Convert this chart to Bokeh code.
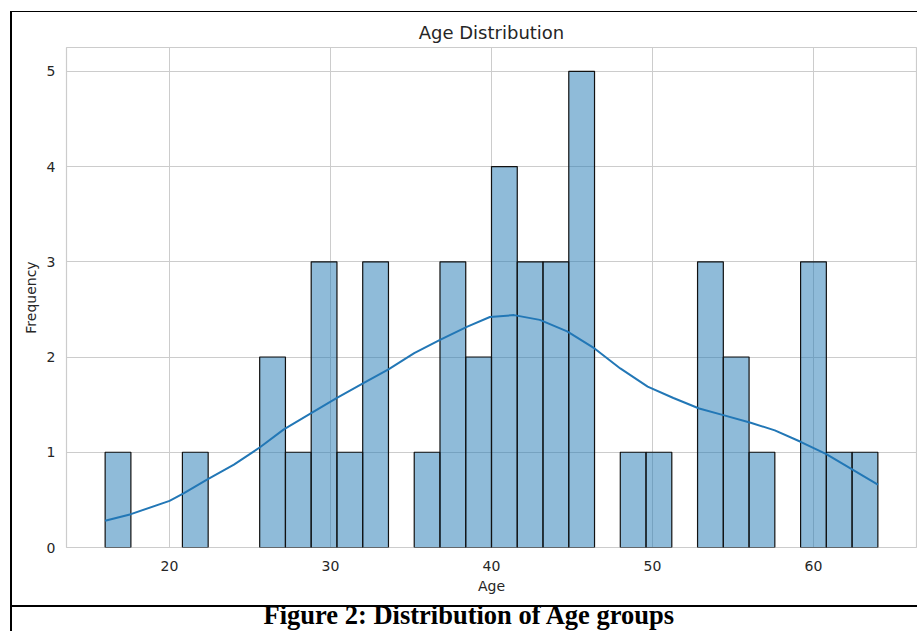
import numpy as np
from bokeh.plotting import figure
from bokeh.models import (ColumnDataSource, Title, FixedTicker, Range1d,
                          InlineStyleSheet)
from bokeh.embed import file_html
from bokeh.resources import INLINE

# ---- data ----
# Age histogram: 30 bins of width 1.6 starting at age 16
bin_start = 16.0
bin_width = 1.6
counts = [1, 0, 0, 1, 0, 0, 2, 1, 3, 1, 3, 0, 1, 3, 2,
          4, 3, 3, 5, 0, 1, 1, 0, 3, 2, 1, 0, 3, 1, 1]

# KDE curve (scaled to counts)
kde_age = [16.0, 17.6, 20.0, 20.9, 22.3, 24.0, 25.6, 27.1, 28.8, 30.4,
           32.1, 33.6, 35.2, 36.8, 38.5, 39.9, 41.4, 43.0, 44.7, 46.4,
           48.0, 49.7, 51.3, 52.9, 54.4, 56.1, 57.6, 59.2, 60.8, 62.4, 64.0]
kde_freq = [0.28, 0.35, 0.49, 0.57, 0.71, 0.87, 1.05, 1.24, 1.41, 1.57,
            1.73, 1.87, 2.04, 2.18, 2.32, 2.42, 2.44, 2.39, 2.27, 2.09,
            1.88, 1.69, 1.57, 1.46, 1.39, 1.31, 1.23, 1.11, 0.98, 0.82, 0.66]

x_ticks = [20, 30, 40, 50, 60]
y_ticks = [0, 1, 2, 3, 4, 5]

title_text = "Age Distribution"
x_label = "Age"
y_label = "Frequency"
caption_text = "Figure 2: Distribution of Age groups"

# ---- build ----
counts_arr = np.array(counts, dtype=float)
edges = bin_start + bin_width * np.arange(len(counts) + 1)
mask = counts_arr > 0
bars = ColumnDataSource(dict(left=edges[:-1][mask], right=edges[1:][mask],
                             top=counts_arr[mask]))
kde = ColumnDataSource(dict(x=kde_age, y=kde_freq))

TXT = "#262626"
GRID = "#cccccc"
FONT = "DejaVu Sans"

p = figure(width=917, height=631, output_backend="svg", toolbar_location=None,
           x_range=Range1d(13.6, 66.4), y_range=Range1d(0, 5.25),
           min_border_left=66, min_border_right=1, min_border_top=47,
           min_border_bottom=83)
p.background_fill_color = "white"
p.border_fill_color = "white"
p.outline_line_color = GRID
p.outline_line_width = 1.2

p.quad(left="left", right="right", top="top", bottom=0, source=bars,
       fill_color="#1f77b4", fill_alpha=0.5, line_color="#111111", line_width=1.2)
p.line("x", "y", source=kde, line_color="#2277b6", line_width=2)

for ax in (p.xaxis[0], p.yaxis[0]):
    ax.axis_line_color = None
    ax.major_tick_line_color = None
    ax.minor_tick_line_color = None
    ax.major_tick_out = 0
    ax.major_tick_in = 0
    ax.minor_tick_out = 0
    ax.major_label_text_font = FONT
    ax.major_label_text_font_size = "14px"
    ax.major_label_text_color = TXT
    ax.axis_label_text_font = FONT
    ax.axis_label_text_font_size = "14px"
    ax.axis_label_text_font_style = "normal"
    ax.axis_label_text_color = TXT

p.xaxis.ticker = FixedTicker(ticks=x_ticks)
p.yaxis.ticker = FixedTicker(ticks=y_ticks)
p.xaxis.axis_label = x_label
p.yaxis.axis_label = y_label
p.xaxis.major_label_standoff = 13
p.xaxis.axis_label_standoff = 4
p.yaxis.major_label_standoff = 11
p.yaxis.axis_label_standoff = 5

p.xgrid.grid_line_color = GRID
p.ygrid.grid_line_color = GRID
p.xgrid.grid_line_width = 1
p.ygrid.grid_line_width = 1

p.title.text = title_text
p.title.align = "center"
p.title.text_font = FONT
p.title.text_font_size = "18px"
p.title.text_font_style = "normal"
p.title.text_color = TXT
p.title.standoff = 10

caption = Title(text=caption_text, align="left", offset=197,
                text_font="Liberation Serif", text_font_style="bold",
                text_font_size="26.5px", text_color="black", standoff=3)
p.add_layout(caption, "below")

# document frame lines (decorative) around the figure
css = """
:host { position: relative; }
:host::before { content: ""; position: absolute; box-sizing: border-box;
  left: 10px; top: 11px; width: 1000px; height: 596px;
  border-top: 1px solid #000; border-left: 2px solid #000; border-bottom: 2px solid #000;
  pointer-events: none; z-index: 100; }
:host::after { content: ""; position: absolute; left: 10px; top: 605px;
  width: 2px; height: 100px; background: #000; pointer-events: none; z-index: 100; }
"""
p.stylesheets = [InlineStyleSheet(css=css)]

open("out.html", "w").write(file_html(p, INLINE))
